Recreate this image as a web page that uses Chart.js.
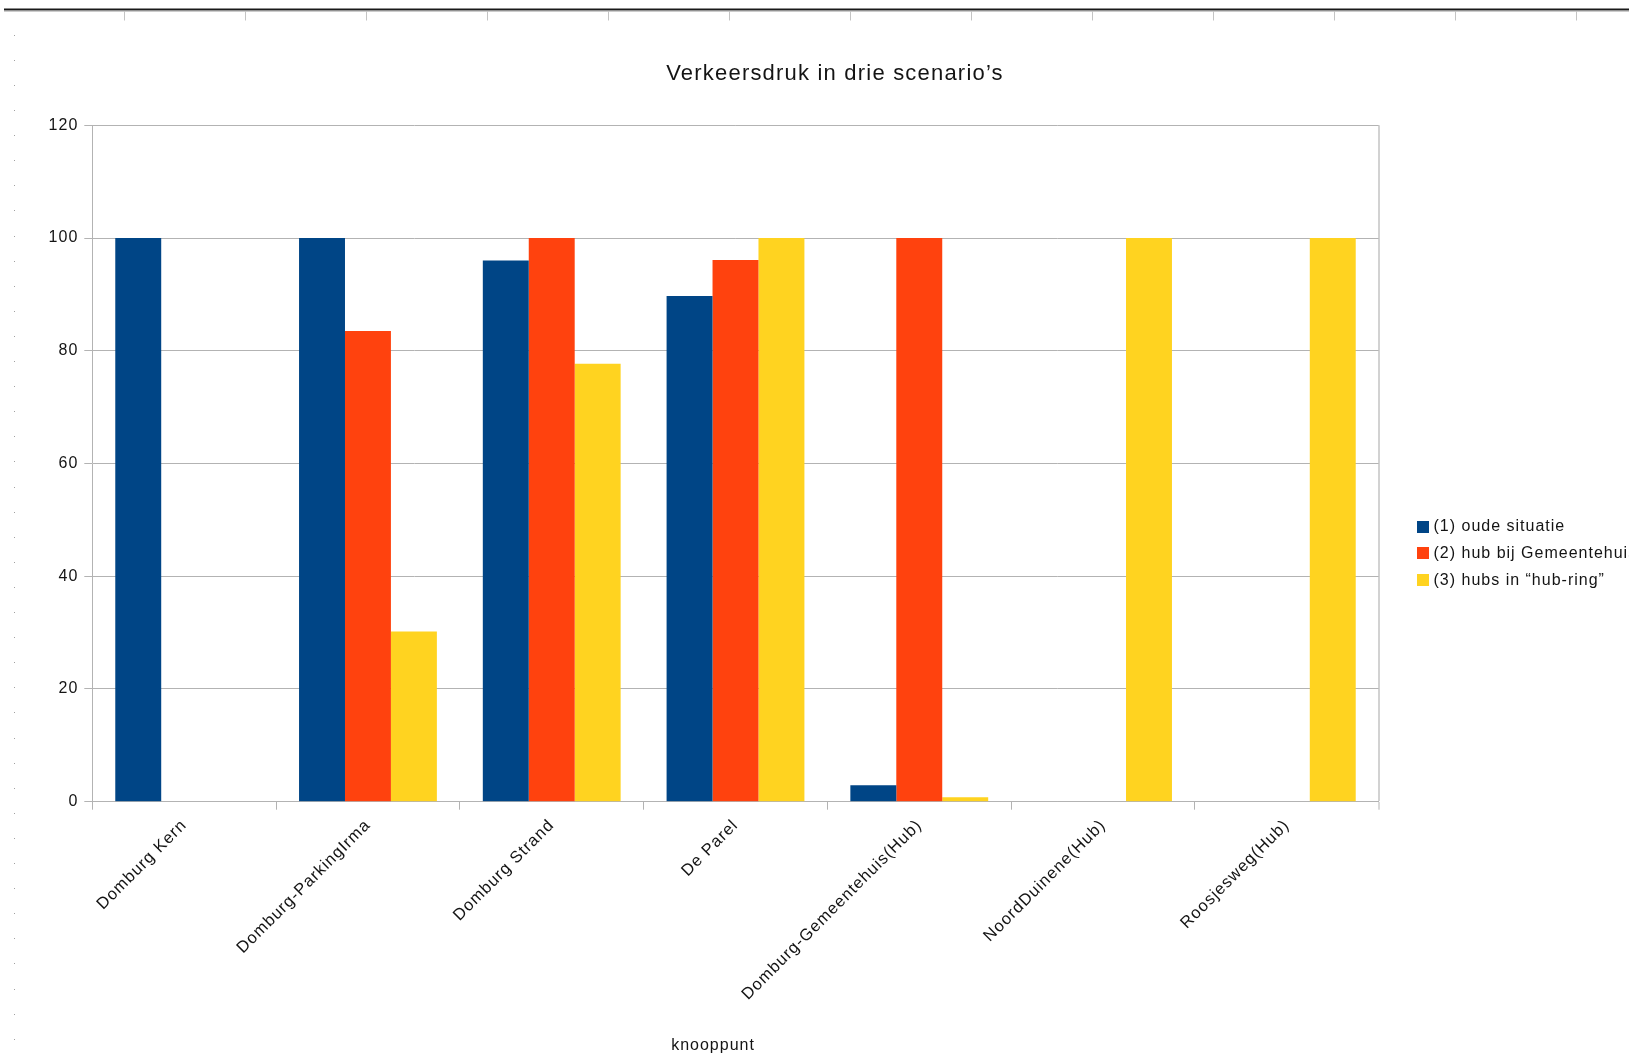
<!DOCTYPE html>
<html lang="nl">
<head>
<meta charset="utf-8">
<title>Verkeersdruk in drie scenario’s</title>
<script src="https://cdn.jsdelivr.net/npm/chart.js@4.4.1/dist/chart.umd.min.js"></script>
<style>
  html, body { margin: 0; padding: 0; background: #fff; overflow: hidden; }
  #wrap { width: 1629px; height: 1055px; position: relative; }
</style>
</head>
<body>
<div id="wrap"><canvas id="verkeerChart"></canvas></div>
<script>
// knooppunten langs de x-as
const knooppunten = [
    'Domburg Kern',
    'Domburg-ParkingIrma',
    'Domburg Strand',
    'De Parel',
    'Domburg-Gemeentehuis(Hub)',
    'NoordDuinene(Hub)',
    'Roosjesweg(Hub)'
];

// verkeersdruk per scenario (index, 100 = drukste knooppunt)
const oudeSituatie    = [100, 100,  96,  89.7, 2.9,   0,   0];
const hubGemeentehuis = [  0, 83.5, 100, 96.1, 100,   0,   0];
const hubRing         = [  0, 30.2, 77.7, 100, 0.8, 100, 100];

const scenarioNamen = ['(1) oude situatie', '(2) hub bij Gemeentehuis', '(3) hubs in “hub-ring”'];
const scenarioKleuren = ['#004586', '#ff420e', '#ffd320'];

const yTicks = [0, 20, 40, 60, 80, 100, 120];

const titel = 'Verkeersdruk in drie scenario’s';
const asTitel = 'knooppunt';

const FONT = '"Liberation Sans", Arial, sans-serif';
const TEXT = '#141414';
const LIJN = '#b3b3b3';

Chart.defaults.font.family = FONT;
Chart.defaults.color = TEXT;

// liniaal, titel, as-titel en legenda rond het diagram
const decorPlugin = {
    id: 'decor',
    beforeUpdate(chart) {
        chart.ctx.letterSpacing = '1px';
    },
    beforeDraw(chart) {
        const ctx = chart.ctx;
        ctx.save();
        // liniaal bovenaan
        ctx.fillStyle = '#1a1a1a';
        ctx.fillRect(4, 8.5, chart.width, 2);
        ctx.fillStyle = '#9a9a9a';
        ctx.fillRect(4, 10.5, chart.width, 1);
        ctx.strokeStyle = '#c4c4c4';
        ctx.lineWidth = 1;
        for (let i = 0; i < 13; i++) {
            const x = Math.round(123.6 + i * 121.03) + 0.5;
            ctx.beginPath();
            ctx.moveTo(x, 11);
            ctx.lineTo(x, 20.5);
            ctx.stroke();
        }
        // stippen langs de linkerkant
        ctx.fillStyle = '#a0a0a0';
        for (let i = 0; i <= 40; i++) {
            ctx.fillRect(14, Math.round(34.7 + i * 25.1), 1, 1);
        }
        ctx.restore();
        ctx.letterSpacing = '1px';
    },
    afterDraw(chart) {
        const ctx = chart.ctx;
        ctx.save();
        ctx.fillStyle = TEXT;
        ctx.textBaseline = 'middle';

        // titel
        ctx.letterSpacing = '1.2px';
        ctx.font = '22px ' + FONT;
        ctx.textAlign = 'center';
        ctx.fillText(titel, 835, 74);

        // as-titel
        ctx.letterSpacing = '1px';
        ctx.font = '16px ' + FONT;
        ctx.fillText(asTitel, 713, 1046);

        // legenda
        ctx.textAlign = 'left';
        chart.data.datasets.forEach((ds, i) => {
            const y = 526.5 + i * 26.9;
            ctx.fillStyle = ds.backgroundColor;
            ctx.fillRect(1417, Math.round(y - 6), 12, 12);
            ctx.fillStyle = TEXT;
            ctx.fillText(ds.label, 1433.5, y);
        });
        ctx.restore();
    }
};

const datasets = [oudeSituatie, hubGemeentehuis, hubRing].map((data, i) => ({
    label: scenarioNamen[i],
    data: data,
    backgroundColor: scenarioKleuren[i],
    borderWidth: 0,
    barPercentage: 1,
    categoryPercentage: 0.75
}));

const ctx = document.getElementById('verkeerChart').getContext('2d');
const verkeerChart = new Chart(ctx, {
    type: 'bar',
    data: {
        labels: knooppunten,
        datasets: datasets
    },
    options: {
        responsive: true,
        maintainAspectRatio: false,
        animation: false,
        devicePixelRatio: 1,
        layout: {
            padding: { top: 125.3, right: 250.3, bottom: 0, left: 0 }
        },
        plugins: {
            legend: { display: false },
            title: { display: false },
            tooltip: { enabled: false }
        },
        scales: {
            x: {
                offset: true,
                grid: {
                    offset: true,
                    drawOnChartArea: true,
                    // alleen de rechter rand van het plotvlak zichtbaar
                    color: c => c.type === 'tick' ? 'rgba(0,0,0,0)' : '#d2d2d2',
                    lineWidth: c => c.type === 'tick' ? 1 : 2,
                    tickColor: LIJN,
                    tickWidth: 1,
                    tickLength: 8
                },
                border: { color: LIJN, width: 1 },
                ticks: {
                    autoSkip: false,
                    minRotation: 45,
                    maxRotation: 45,
                    padding: 6,
                    color: TEXT,
                    font: { size: 16.5 }
                },
                afterFit: scale => { scale.height = 1055 - 801.7; }
            },
            y: {
                min: yTicks[0],
                max: yTicks[yTicks.length - 1],
                ticks: {
                    stepSize: yTicks[1] - yTicks[0],
                    padding: 6,
                    color: TEXT,
                    font: { size: 16 }
                },
                grid: {
                    color: LIJN,
                    lineWidth: 1,
                    tickLength: 8,
                    tickColor: LIJN
                },
                border: { color: LIJN, width: 1 },
                afterFit: scale => { scale.width = 92.3; }
            }
        }
    },
    plugins: [decorPlugin]
});
</script>
</body>
</html>
